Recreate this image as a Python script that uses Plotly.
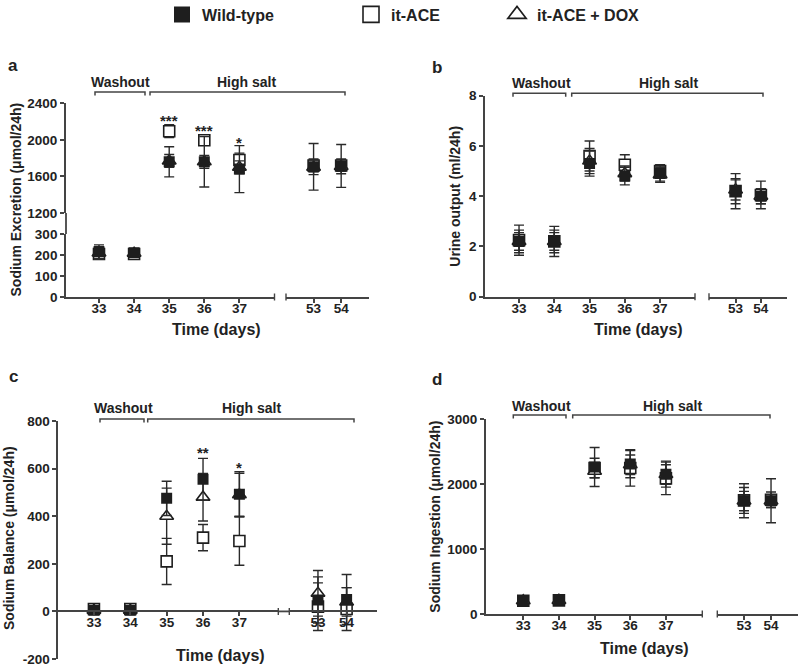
import plotly.graph_objects as go

W, H = 800, 667


def px(x):
    return x / W


def py(y):
    return 1 - y / H


# ---------------- data ----------------
days = [33, 34, 35, 36, 37, 53, 54]
series = ["it-ACE", "it-ACE + DOX", "Wild-type"]  # drawing order (WT on top)

# a: Sodium Excretion (umol/24h)
exc_wt = [216, 211, 1760, 1760, 1680, 1705, 1715]
exc_wt_err = [32, 12, 165, 275, 257, 255, 235]
exc_ace = [205, 205, 2095, 1995, 1780, 1720, 1720]
exc_ace_err = [25, 10, 70, 55, 75, 70, 60]
exc_dox = [210, 208, 1770, 1760, 1700, 1700, 1710]
exc_dox_err = [30, 12, 70, 70, 70, 80, 80]

# b: Urine output (ml/24h)
uri_wt = [2.2, 2.2, 5.3, 4.8, 4.9, 4.2, 4.0]
uri_wt_err = [0.45, 0.45, 0.5, 0.35, 0.3, 0.7, 0.3]
uri_ace = [2.25, 2.2, 5.6, 5.25, 5.0, 4.2, 4.05]
uri_ace_err = [0.6, 0.6, 0.6, 0.4, 0.25, 0.5, 0.55]
uri_dox = [2.2, 2.2, 5.4, 4.9, 4.85, 4.25, 4.0]
uri_dox_err = [0.35, 0.35, 0.5, 0.3, 0.3, 0.4, 0.3]

# c: Sodium Balance (umol/24h)
bal_wt = [5, 5, 475, 555, 492, 48, 50]
bal_wt_err = [10, 10, 72, 88, 95, 97, 105]
bal_ace = [10, 10, 210, 310, 296, 20, 10]
bal_ace_err = [8, 8, 97, 55, 102, 100, 90]
bal_dox = [5, 5, 400, 480, 490, 76, 40]
bal_dox_err = [10, 10, 118, 100, 90, 96, 60]

# d: Sodium Ingestion (umol/24h)
ing_wt = [205, 210, 2265, 2310, 2155, 1745, 1745]
ing_wt_err = [20, 20, 300, 210, 200, 262, 340]
ing_ace = [205, 210, 2250, 2250, 2090, 1750, 1760]
ing_ace_err = [20, 20, 150, 280, 250, 200, 120]
ing_dox = [205, 210, 2200, 2300, 2150, 1740, 1740]
ing_dox_err = [20, 20, 100, 150, 150, 150, 100]

seg1_ticks = [33, 34, 35, 36, 37]
seg2_ticks = [53, 54]

# significance marks
sig_a = {"x": [35, 36, 37], "y": [2261, 2144, 2017], "text": ["***", "***", "*"]}
sig_c = {"x": [36, 37], "y": [684, 622], "text": ["**", "*"]}

# ---------------- style ----------------
INK = "#1e1e1e"
AX = "#444444"
FONT = "Liberation Sans, Arial, sans-serif"
TXT = "#222222"

styles = {
    "Wild-type": dict(symbol="square", size=11, color=INK, line=dict(width=0)),
    "it-ACE": dict(symbol="square", size=11, color="white", line=dict(color=INK, width=1.6)),
    "it-ACE + DOX": dict(symbol="triangle-up", size=12, color="white", line=dict(color=INK, width=1.6)),
}

fig = go.Figure()


def add_panel(data, axis_of_day):
    for name in series:
        vals, errs = data[name]
        groups = {}
        for d, v, e in zip(days, vals, errs):
            key = axis_of_day(d)
            g = groups.setdefault(key, ([], [], []))
            g[0].append(d)
            g[1].append(v)
            g[2].append(e)
        for (xa, ya), (xs, ys, es) in groups.items():
            fig.add_trace(go.Scatter(
                x=xs, y=ys, xaxis=xa, yaxis=ya, mode="markers", name=name,
                marker=styles[name], showlegend=False,
                error_y=dict(type="data", array=es, color="#2a2a2a", thickness=1.4, width=5),
            ))


add_panel({"Wild-type": (exc_wt, exc_wt_err), "it-ACE": (exc_ace, exc_ace_err),
           "it-ACE + DOX": (exc_dox, exc_dox_err)},
          lambda d: ("x", "y") if d <= 34 else (("x", "y2") if d < 50 else ("x2", "y2")))
add_panel({"Wild-type": (uri_wt, uri_wt_err), "it-ACE": (uri_ace, uri_ace_err),
           "it-ACE + DOX": (uri_dox, uri_dox_err)},
          lambda d: ("x3", "y3") if d < 50 else ("x4", "y3"))
add_panel({"Wild-type": (bal_wt, bal_wt_err), "it-ACE": (bal_ace, bal_ace_err),
           "it-ACE + DOX": (bal_dox, bal_dox_err)},
          lambda d: ("x5", "y4") if d < 50 else ("x6", "y4"))
add_panel({"Wild-type": (ing_wt, ing_wt_err), "it-ACE": (ing_ace, ing_ace_err),
           "it-ACE + DOX": (ing_dox, ing_dox_err)},
          lambda d: ("x7", "y5") if d < 50 else ("x8", "y5"))

# legend entries (three separate legends placed along the top)
legend_ids = {"Wild-type": "legend", "it-ACE": "legend2", "it-ACE + DOX": "legend3"}
for name in ["Wild-type", "it-ACE", "it-ACE + DOX"]:
    st = dict(styles[name])
    st["size"] = 16
    fig.add_trace(go.Scatter(x=[None], y=[None], mode="markers", name=name, marker=st,
                             legend=legend_ids[name], showlegend=True))

tickfont = dict(family=FONT, size=13.5, color=TXT, weight="bold")
base_axis = dict(showline=True, linecolor=AX, linewidth=1.8, ticks="outside", ticklen=4,
                 tickwidth=1.5, tickcolor=AX, tickfont=tickfont, showgrid=False,
                 zeroline=False, fixedrange=True, ticklabeloverflow="allow")


def xax(dom, rng, ticks, **kw):
    d = dict(base_axis)
    d.update(domain=[px(dom[0]), px(dom[1])], range=rng, tickmode="array",
             tickvals=ticks, ticktext=[str(t) for t in ticks], ticklabelstandoff=-6)
    d.update(kw)
    return d


def yax(dom, rng, ticks, **kw):
    d = dict(base_axis)
    d.update(domain=[py(dom[1]), py(dom[0])], range=rng, tickmode="array",
             tickvals=ticks, ticktext=[str(t) for t in ticks])
    d.update(kw)
    return d


c_top, c_bot = 421, 659
zero_c = c_bot - (c_bot - c_top) * 200 / 1000

layout_axes = dict(
    # panel a
    xaxis=xax((66, 274.5), [32.06, 38.0], seg1_ticks, anchor="y"),
    xaxis2=xax((286, 369.3), [52.0, 55.02], seg2_ticks, anchor="y"),
    yaxis=yax((234, 297), [0, 300], [0, 100, 200, 300], anchor="x"),
    yaxis2=yax((103.3, 213), [1200, 2400], [1200, 1600, 2000, 2400], anchor="x"),
    # panel b
    xaxis3=xax((485, 695), [32.035, 37.99], seg1_ticks, anchor="y3"),
    xaxis4=xax((709, 786.7), [51.95, 55.02], seg2_ticks, anchor="y3"),
    yaxis3=yax((95.7, 296.7), [0, 8], [0, 2, 4, 6, 8], anchor="x3"),
    # panel c
    xaxis5=xax((58.3, 278.3), [32.02, 38.07], seg1_ticks, anchor="free", position=py(zero_c)),
    xaxis6=xax((289.3, 376.7), [52.0, 55.05], seg2_ticks, anchor="free", position=py(zero_c)),
    yaxis4=yax((c_top, c_bot), [-200, 800], [-200, 0, 200, 400, 600, 800], anchor="x5"),
    # panel d
    xaxis7=xax((486, 702.3), [31.955, 38.02], seg1_ticks, anchor="y5"),
    xaxis8=xax((717.3, 798.3), [52.01, 55.01], seg2_ticks, anchor="y5"),
    yaxis5=yax((419.3, 614), [0, 3000], [0, 1000, 2000, 3000], anchor="x7"),
)

shapes = []


def pline(x0, y0, x1, y1, w=1.6):
    shapes.append(dict(type="line", xref="paper", yref="paper", x0=px(x0), y0=py(y0),
                       x1=px(x1), y1=py(y1), line=dict(color=AX, width=w)))


def bracket(x0, x1, y):
    shapes.append(dict(type="path", xref="paper", yref="paper",
                       path=f"M {px(x0)},{py(y + 3.5)} L {px(x0)},{py(y)} L {px(x1)},{py(y)} L {px(x1)},{py(y + 3.5)}",
                       line=dict(color=AX, width=1.5)))


# break marks at segment ends
for xx, yy in [(274.5, 297), (286, 297), (695, 296.7), (709, 296.7), (702.3, 614), (717.3, 614),
               (278.3, zero_c), (289.3, zero_c)]:
    pline(xx, yy - 3.5, xx, yy + 3.5, 1.4)
# connect zero line through the gap in panel c
pline(278.3, zero_c, 289.3, zero_c, 1.8)
# connect the broken y-axis of panel a
pline(66, 213, 66, 234, 1.8)

# brackets
bracket(95, 145, 92)
bracket(150, 345, 92)
bracket(513, 565.7, 93.3)
bracket(571.7, 763, 93.3)
bracket(100, 144, 419)
bracket(147.7, 354, 419)
bracket(513.3, 566, 415)
bracket(572.7, 770, 415)

annotations = []


def ptext(x, y, text, size=14, angle=0, weight="bold"):
    annotations.append(dict(x=px(x), y=py(y), xref="paper", yref="paper", text=text,
                            showarrow=False, textangle=angle, xanchor="center", yanchor="middle",
                            font=dict(family=FONT, size=size, color=TXT, weight=weight)))


# panel letters
ptext(13, 65, "a", 17)
ptext(437, 67, "b", 17)
ptext(13, 377, "c", 17)
ptext(437, 379, "d", 17)

# bracket labels
for x, y, t in [(120, 82, "Washout"), (246, 82, "High salt"),
                (541.7, 83.3, "Washout"), (668, 83.3, "High salt"),
                (123.3, 408, "Washout"), (251.7, 408, "High salt"),
                (541.7, 405.7, "Washout"), (672.7, 405.7, "High salt")]:
    ptext(x, y, t, 14)

# axis titles
for x, y in [(216, 329.3), (638, 330), (220, 655), (644.7, 648.3)]:
    ptext(x, y, "Time (days)", 16)
ptext(16, 199.5, "Sodium Excretion (μmol/24h)", 14, -90)
ptext(455, 196.7, "Urine output (ml/24h)", 14, -90)
ptext(9, 538, "Sodium Balance (μmol/24h)", 14, -90)
ptext(435, 516.7, "Sodium Ingestion (μmol/24h)", 14, -90)

# significance asterisks in data coordinates
for xs, ys, ts, xr, yr in [(sig_a["x"], sig_a["y"], sig_a["text"], "x", "y2"),
                           (sig_c["x"], sig_c["y"], sig_c["text"], "x5", "y4")]:
    for x, y, t in zip(xs, ys, ts):
        annotations.append(dict(x=x, y=y, xref=xr, yref=yr, text=t, showarrow=False,
                                xanchor="center", yanchor="middle", yshift=-4,
                                font=dict(family=FONT, size=15, color=TXT, weight="bold")))

legfont = dict(family=FONT, size=16, color=TXT, weight="bold")


def leg(x):
    return dict(x=px(x), y=py(-2.5), xanchor="left", yanchor="top", orientation="h",
                bgcolor="rgba(0,0,0,0)", font=legfont, itemclick=False, itemdoubleclick=False)


fig.update_layout(
    width=W, height=H, autosize=False,
    margin=dict(l=0, r=0, t=0, b=0, autoexpand=False),
    paper_bgcolor="white", plot_bgcolor="white",
    font=dict(family=FONT, color=TXT),
    shapes=shapes, annotations=annotations,
    legend=leg(162), legend2=leg(351), legend3=leg(497),
    hovermode=False,
    **layout_axes,
)

fig.write_html(
    "out.html",
    config={"displayModeBar": False, "staticPlot": False},
    post_script="document.body.style.margin='0';document.body.style.padding='0';"
                "document.body.style.overflow='hidden';",
)
